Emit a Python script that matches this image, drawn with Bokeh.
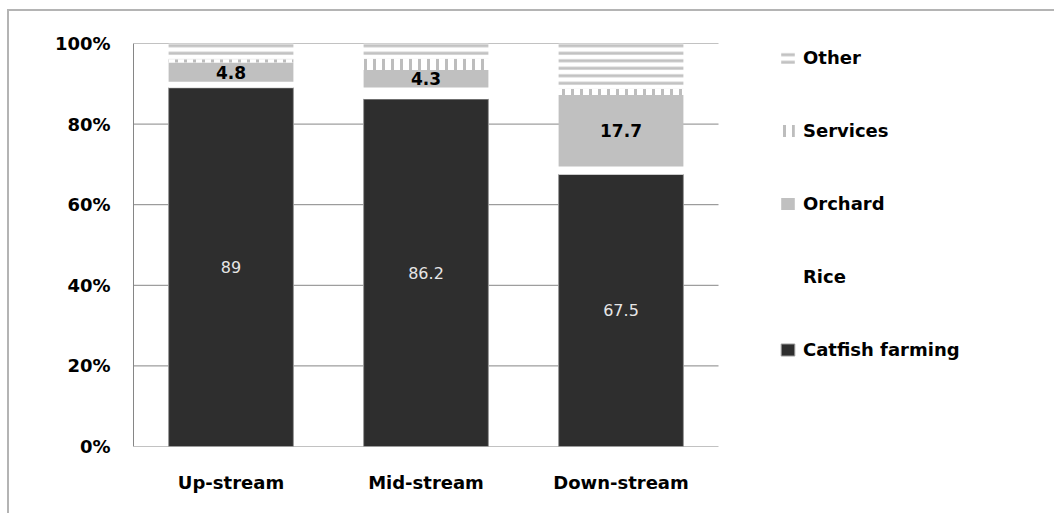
from bokeh.plotting import figure
from bokeh.models import ColumnDataSource, Legend, LegendItem, FixedTicker, LabelSet
from bokeh.core.properties import value
from bokeh.embed import file_html
from bokeh.resources import INLINE

# Land-use shares (%) along the river
regions = ["Up-stream", "Mid-stream", "Down-stream"]
catfish = [89.0, 86.2, 67.5]
rice = [1.5, 2.9, 2.0]
orchard = [4.8, 4.3, 17.7]
services = [0.8, 2.8, 1.5]
other = [3.9, 3.8, 11.3]

y_ticks = [0, 20, 40, 60, 80, 100]
y_tick_labels = ["0%", "20%", "40%", "60%", "80%", "100%"]

series_names = ["Catfish farming", "Rice", "Orchard", "Services", "Other"]
series_values = [catfish, rice, orchard, services, other]

# one unit of x per region, bars centred in their slot
n = len(regions)
xpos = [i + 0.5 for i in range(n)]

data = {"x": xpos, "region": regions}
running = [0.0] * n
for name, vals in zip(series_names, series_values):
    data[name + "_bottom"] = list(running)
    running = [r + v for r, v in zip(running, vals)]
    data[name + "_top"] = list(running)
    data[name + "_mid"] = [(b + t) / 2 for b, t in zip(data[name + "_bottom"], running)]
    data[name + "_text"] = [f"{v:g}" for v in vals]
source = ColumnDataSource(data)

FONT = "DejaVu Sans"
GRID = "#868686"
SLOT_PX = 195.0          # pixel width of one region slot
FRAME_W = 1047 - 124 - 10

p = figure(
    x_range=(0, FRAME_W / SLOT_PX), y_range=(0, 100),
    width=1047, height=504,
    min_border_left=124, min_border_right=10, min_border_top=32, min_border_bottom=69,
    output_backend="svg", toolbar_location=None,
)
p.styles = {
    "margin-left": "7px", "margin-top": "9px",
    "border-left": "2px solid #b4b4b4", "border-top": "2px solid #b4b4b4",
}
p.outline_line_color = None
p.xgrid.grid_line_color = None
p.ygrid.grid_line_color = None

# horizontal gridlines and base line only across the region slots
p.segment(x0=[0] * len(y_ticks), x1=[n] * len(y_ticks), y0=y_ticks, y1=y_ticks,
          line_color=GRID, line_width=1)

p.yaxis.ticker = FixedTicker(ticks=y_ticks)
p.yaxis.major_label_overrides = {t: s for t, s in zip(y_ticks, y_tick_labels)}
p.xaxis.ticker = FixedTicker(ticks=xpos)
p.xaxis.major_label_overrides = {x: r for x, r in zip(xpos, regions)}
for ax in (p.xaxis, p.yaxis):
    ax.major_tick_line_color = None
    ax.minor_tick_line_color = None
    ax.major_label_text_font = FONT
    ax.major_label_text_font_style = "bold"
    ax.major_label_text_font_size = "18px"
    ax.major_label_text_color = "black"
p.yaxis.axis_line_color = GRID
p.xaxis.axis_line_color = None
p.yaxis.major_label_standoff = 17
p.xaxis.major_label_standoff = 19

styles = {
    "Catfish farming": dict(fill_color="#2e2e2e", line_color="#9a9a9a", line_width=1),
    "Rice": dict(fill_color="white", line_color=None),
    "Orchard": dict(fill_color="#c0c0c0", line_color=None),
    "Services": dict(fill_color="white", line_color=None, hatch_pattern="vertical_line",
                     hatch_color="#bdbdbd", hatch_scale=9, hatch_weight=3),
    "Other": dict(fill_color="white", line_color=None, hatch_pattern="horizontal_line",
                  hatch_color="#c2c2c2", hatch_scale=7.5, hatch_weight=3),
}

renderers = {}
for name in series_names:
    renderers[name] = p.vbar(x="x", bottom=name + "_bottom", top=name + "_top",
                             width=0.64, source=source, **styles[name])

p.add_layout(LabelSet(x="x", y="Catfish farming_mid", text="Catfish farming_text",
                      source=source, text_align="center", text_baseline="middle",
                      text_font=value(FONT), text_font_size="16px", text_color="#e6e6e6"))
p.add_layout(LabelSet(x="x", y="Orchard_mid", text="Orchard_text",
                      source=source, text_align="center", text_baseline="middle",
                      text_font=value(FONT), text_font_style="bold", text_font_size="17px",
                      text_color="black"))

legend = Legend(
    items=[LegendItem(label=nm, renderers=[renderers[nm]]) for nm in reversed(series_names)],
    location=(646, 86), orientation="vertical",
    padding=0, margin=0, border_line_color=None, background_fill_alpha=0,
    glyph_width=17, glyph_height=15, label_standoff=7, label_height=20, spacing=52,
    label_text_font=FONT, label_text_font_style="bold", label_text_font_size="18px",
    label_text_color="black",
)
p.add_layout(legend)

open("out.html", "w").write(file_html(p, INLINE))
